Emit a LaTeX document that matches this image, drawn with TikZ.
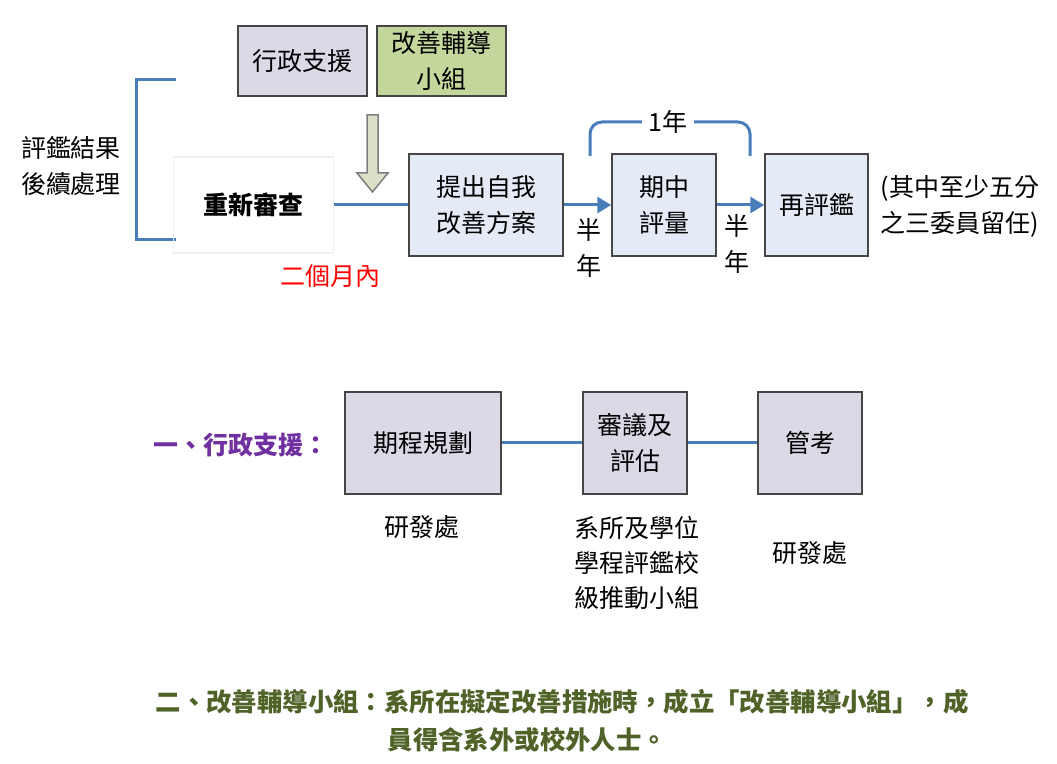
\documentclass[tikz,border=0pt]{standalone}
\usepackage{fontspec}
\setmainfont{Noto Sans CJK TC}
\usetikzlibrary{arrows.meta}
\definecolor{flowblue}{HTML}{4A7EBB}
\definecolor{boxgray}{HTML}{464646}
\definecolor{lilac}{HTML}{DDD8E6}
\definecolor{sage}{HTML}{C3D69B}
\definecolor{paleblue}{HTML}{E4EBF6}
\definecolor{khaki}{HTML}{DDE0C8}
\definecolor{olivetext}{HTML}{4F6228}
\definecolor{violettext}{HTML}{7030A0}

\begin{document}
\begin{tikzpicture}[x=0.5pt,y=-0.5pt,line width=0.75pt,
    every node/.style={font=\fontsize{12.5}{18}\selectfont,inner sep=0pt,align=center},
    box/.style={draw=boxgray,line width=0.75pt},
    link/.style={draw=flowblue,line width=1.5pt},
    tip/.style={-{Triangle[length=7pt,width=8pt]}}]
    \useasboundingbox (0,0) rectangle (1057,764);
    % top row
    \node[box,fill=lilac,minimum width=64.5pt,minimum height=35pt] (adm) at (302.5,61) {行政支援};
    \node[box,fill=sage,minimum width=64.5pt,minimum height=35pt] (grp) at (441.5,61) {改善輔導\\小組};
    \node (result) at (71,166) {評鑑結果\\後續處理};
    \coordinate (brtop) at (176,80);
    \coordinate (brbot) at (176,240);
    \draw[link] (brtop) -- ++(-40,0) |- (brbot);
    \node[draw=gray!12,minimum width=80pt,minimum height=48pt,font=\fontsize{12.5}{18}\selectfont\bfseries] (review) at (253.5,205) {重新審查};
    \node[text=red] (twomon) at (330,276) {二個月內};
    \draw[fill=khaki,draw=boxgray!70] (367,115) -- (378,115) -- (378,173) -- (388,173) -- (372.5,192) -- (357,173) -- (367,173) -- cycle;
    \node[box,fill=paleblue,minimum width=77pt,minimum height=51pt] (plan) at (486,205) {提出自我\\改善方案};
    \node[box,fill=paleblue,minimum width=52pt,minimum height=51pt] (mid) at (664,205) {期中\\評量};
    \node[box,fill=paleblue,minimum width=51.5pt,minimum height=51pt] (reeval) at (816.5,205) {再評鑑};
    \draw[link] (review) -- (plan);
    \draw[link,tip] (plan) -- (mid);
    \draw[link,tip] (mid) -- (reeval);
    \node (half1) at (589,248) {半\\年};
    \node (half2) at (737,244) {半\\年};
    \node[inner xsep=3pt] (year) at (668,122) {1年};
    \draw[link,rounded corners=6pt] (590,156) |- (year.west);
    \draw[link,rounded corners=6pt] (year.east) -| (750,156);
    \node[anchor=west,align=left] (keep) at (880,206) {(其中至少五分\\之三委員留任)};
    % bottom row
    \node[text=violettext,font=\fontsize{12.5}{18}\selectfont\bfseries] (sec1) at (241,445) {一、行政支援：};
    \node[box,fill=lilac,minimum width=78pt,minimum height=51pt] (sched) at (423,443) {期程規劃};
    \node[box,fill=lilac,minimum width=52pt,minimum height=51pt] (audit) at (635,443) {審議及\\評估};
    \node[box,fill=lilac,minimum width=52pt,minimum height=51pt] (ctrl) at (810,443) {管考};
    \draw[link] (sched) -- (audit);
    \draw[link] (audit) -- (ctrl);
    \node (rd1) at (422,527) {研發處};
    \node[font=\fontsize{12.5}{17.5}\selectfont] (dept) at (637,563) {系所及學位\\學程評鑑校\\級推動小組};
    \node (rd2) at (810,553) {研發處};
    \node[anchor=west,text=olivetext,font=\fontsize{12.7}{19}\selectfont\bfseries] (sec2a) at (155,702) {二、改善輔導小組：系所在擬定改善措施時，成立「改善輔導小組」，成};
    \node[anchor=west,text=olivetext,font=\fontsize{12.7}{19}\selectfont\bfseries] (sec2b) at (387,740) {員得含系外或校外人士。};
\end{tikzpicture}
\end{document}
